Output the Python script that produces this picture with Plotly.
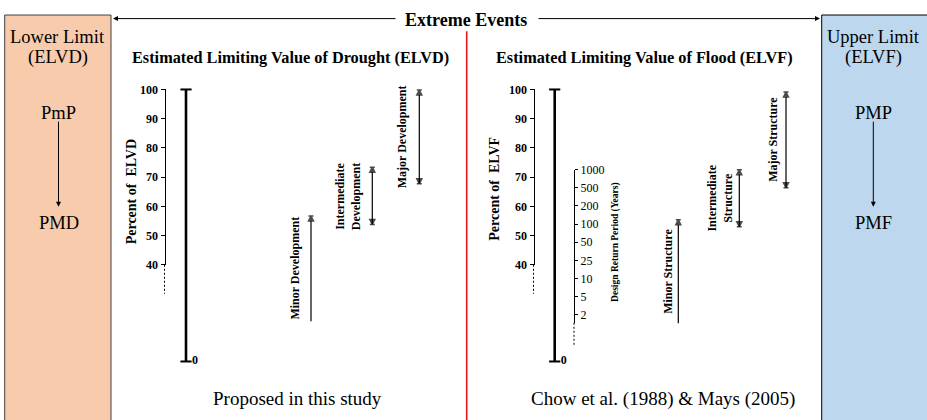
import plotly.graph_objects as go

W, H = 927, 420
SERIF = "Liberation Serif"

# ---------------- data ----------------
pct_ticks = [40, 50, 60, 70, 80, 90, 100]          # Percent of ELVD / ELVF axis
limit_range = [100, 0]                              # thick limiting-value line (axis broken below 30)
return_periods = ["2", "5", "10", "25", "50", "100", "200", "500", "1000"]

drought_classes = ["Minor Development", "Intermediate<br>Development", "Major Development"]
drought_low = [20.7, 53.8, 67.7]
drought_high = [56.7, 73.4, 99.8]
drought_open_low = [True, False, False]

flood_classes = ["Minor Structure", "Intermediate<br>Structure", "Major Structure"]
flood_low = [20.0, 53.0, 66.4]
flood_high = [55.4, 72.5, 99.1]
flood_open_low = [True, False, False]

# ---------------- layout geometry (pixels) ----------------
Y100, Y40 = 85.3, 266.7                 # pixel rows of 100 % and 40 %
K = (Y40 - Y100) / 60.0                 # px per percent
ZERO_PX = 366.7                         # where the broken axis shows "0"
RP_TOP_PX, RP_BOT_PX, RP_LOW_TICK_PX = 168.3, 326.7, 318.3


def pct_at(px):
    return 100 - (px - Y100) / K


def py(px):
    return 1 - px / H


ZERO_DRAWN = pct_at(ZERO_PX)

fig = go.Figure()


def panel(axis_x, limit_x, arrow_x, label_dx, classes, low, high, open_low, yaxis_name):
    # invisible trace so the percent axis is drawn
    fig.add_trace(go.Scatter(x=[axis_x] * len(pct_ticks), y=pct_ticks, xaxis="x", yaxis=yaxis_name,
                             mode="markers", marker=dict(opacity=0), hoverinfo="skip", showlegend=False))
    # thick limiting-value line
    ys = [v if v > 0 else ZERO_DRAWN for v in limit_range]
    fig.add_trace(go.Scatter(
        x=[limit_x, limit_x], y=ys, mode="lines+markers+text",
        line=dict(color="black", width=2.6),
        marker=dict(symbol="line-ew", size=8, color="black", line=dict(width=2, color="black")),
        text=["" if v > 0 else str(v) for v in limit_range], textposition="middle right",
        textfont=dict(family=SERIF, size=12, color="black", weight="bold"),
        hoverinfo="skip", showlegend=False, cliponaxis=False))
    # class arrows
    for i, name in enumerate(classes):
        sym = ["circle" if open_low[i] else "arrow-bar-down", "arrow-bar-up"]
        sz = [0 if open_low[i] else 5, 5]
        fig.add_trace(go.Scatter(
            x=[arrow_x[i], arrow_x[i]], y=[low[i], high[i]], mode="lines+markers",
            line=dict(color="black", width=1.2),
            marker=dict(symbol=sym, size=sz, color="black", line=dict(width=1.5, color="black")),
            hoverinfo="skip", showlegend=False, cliponaxis=False))
        fig.add_annotation(x=arrow_x[i] + label_dx[i], y=(low[i] + high[i]) / 2, xref="x", yref="y",
                           text=name, textangle=-90, showarrow=False,
                           font=dict(family=SERIF, size=12, color="black", weight="bold"))
    # dashed continuation of the broken axis
    fig.add_shape(type="line", xref="x", yref="y", x0=axis_x, x1=axis_x, y0=40, y1=pct_at(296.7),
                  line=dict(color="black", width=1, dash="2px,2px"))


panel(164.5, 186.0, [311.0, 372.3, 419.3], [-16, -24, -17],
      drought_classes, drought_low, drought_high, drought_open_low, "y2")
panel(533.5, 554.7, [678.3, 739.3, 786.0], [-11, -19, -13],
      flood_classes, flood_low, flood_high, flood_open_low, "y3")

# return period axis
fig.add_trace(go.Scatter(x=[574] * len(return_periods), y=list(range(len(return_periods))),
                         xaxis="x", yaxis="y4", mode="markers", marker=dict(opacity=0),
                         hoverinfo="skip", showlegend=False))
fig.add_shape(type="line", xref="x", yref="y", x0=574, x1=574, y0=pct_at(RP_BOT_PX), y1=pct_at(350),
              line=dict(color="black", width=1, dash="2px,2px"))
rp_step = (RP_LOW_TICK_PX - RP_TOP_PX) / (len(return_periods) - 1)
rp_range = [-(RP_BOT_PX - RP_LOW_TICK_PX) / rp_step, len(return_periods) - 1 + 0.001]

pct_axis = dict(range=[40, 100.01], anchor="free", side="left", showline=True, linecolor="black",
                linewidth=1, ticks="outside", ticklen=4, tickwidth=1, tickcolor="black",
                tickvals=pct_ticks, tickfont=dict(family=SERIF, size=12, color="black", weight="bold"),
                showgrid=False, zeroline=False, fixedrange=True, domain=[py(Y40), py(Y100)])

fig.update_layout(
    width=W, height=H, margin=dict(l=0, r=0, t=0, b=0),
    paper_bgcolor="white", plot_bgcolor="rgba(0,0,0,0)", showlegend=False,
    xaxis=dict(range=[0, W], visible=False, fixedrange=True),
    yaxis=dict(range=[pct_at(H), pct_at(0)], visible=False, fixedrange=True),
    yaxis2=dict(pct_axis, position=164.5 / W),
    yaxis3=dict(pct_axis, position=533.5 / W),
    yaxis4=dict(range=rp_range, anchor="free", side="right", position=574 / W, showline=True,
                linecolor="black", linewidth=1, ticks="outside", ticklen=3, tickwidth=1,
                tickcolor="black", tickvals=list(range(len(return_periods))), ticktext=return_periods,
                tickfont=dict(family=SERIF, size=12, color="black"), showgrid=False, zeroline=False,
                fixedrange=True, domain=[py(RP_BOT_PX), py(RP_TOP_PX)]),
)

# limit boxes
fig.add_shape(type="rect", xref="x", yref="paper", x0=4.7, x1=111, y0=-0.05, y1=py(8.3),
              fillcolor="#F8CBAD", line=dict(color="#404040", width=1), layer="below")
fig.add_shape(type="rect", xref="x", yref="paper", x0=821.7, x1=940, y0=-0.05, y1=py(8.3),
              fillcolor="#BDD7EE", line=dict(color="black", width=1), layer="below")

# red divider
fig.add_shape(type="line", xref="x", yref="paper", x0=466.7, x1=466.7, y0=py(25), y1=-0.05,
              line=dict(color="#E8141C", width=1.6))


def text(x, ypx, s, size, bold=False, angle=0):
    fig.add_annotation(x=x, y=py(ypx), xref="x", yref="paper", text=s, showarrow=False,
                       textangle=angle, xanchor="center", yanchor="middle",
                       font=dict(family=SERIF, size=size, color="black",
                                 weight="bold" if bold else "normal"))


def arrow(x_head, y_head, x_tail, y_tail):
    fig.add_annotation(x=x_head, y=py(y_head), xref="x", yref="paper", text="", showarrow=True,
                       ax=x_tail - x_head, ay=y_tail - y_head, axref="pixel", ayref="pixel",
                       arrowhead=2, arrowsize=1, arrowwidth=1, arrowcolor="black")


text(57.5, 31.5, "Lower Limit", 18.5)
text(57.5, 52, "(ELVD)", 18.5)
text(58.5, 109.3, "PmP", 18.5)
text(58.5, 223.3, "PMD", 18.5)
arrow(58.5, 206.7, 58.5, 120)

text(873.3, 31.5, "Upper Limit", 18.5)
text(873.3, 52, "(ELVF)", 18.5)
text(873.3, 109.3, "PMP", 18.5)
text(873.3, 223.3, "PMF", 18.5)
arrow(873.3, 206.7, 873.3, 120)

text(466, 13, "Extreme Events", 18, bold=True)
arrow(113, 12, 397, 12)
arrow(820, 12, 537, 12)

text(290, 52, "Estimated Limiting Value of Drought (ELVD)", 16.3, bold=True)
text(644, 52, "Estimated Limiting Value of Flood (ELVF)", 16.3, bold=True)

text(131.7, 191, "Percent of&nbsp; ELVD", 14, bold=True, angle=-90)
text(495, 188, "Percent of&nbsp; ELVF", 14, bold=True, angle=-90)
text(616, 243, "Design Return Period (Years)", 9.5, bold=True, angle=-90)

text(297.5, 405, "Proposed in this study", 19)
text(663, 405, "Chow et al. (1988) &amp; Mays (2005)", 19)

fig.write_html(
    "out.html",
    config={"displayModeBar": False, "staticPlot": True},
    post_script="document.body.style.margin='0';document.body.style.overflow='hidden';",
)
